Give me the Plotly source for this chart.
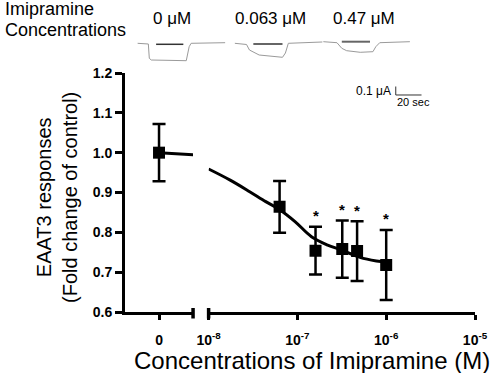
import math
import plotly.graph_objects as go

# ---------------- data ----------------
control_x = [0]
control_y = [1.0]
control_err = [0.072]

conc_M = [6.3e-8, 1.6e-7, 3.2e-7, 4.7e-7, 1.0e-6]
resp = [0.864, 0.754, 0.758, 0.753, 0.718]
resp_err = [0.065, 0.060, 0.072, 0.075, 0.088]
significant = [False, True, True, True, True]

fit_ctrl_x = [0, 1]
fit_ctrl_y = [1.0, 0.995]

fit_x = [1.0e-8, 1.75e-8, 2.9e-8, 4.4e-8, 6.2e-8, 9.4e-8, 1.44e-7, 2.19e-7,
         3.09e-7, 5.07e-7, 7.76e-7, 1.0e-6]
fit_y = [0.959, 0.931, 0.902, 0.877, 0.858, 0.827, 0.789, 0.768,
         0.756, 0.737, 0.728, 0.725]

y_ticks = [0.6, 0.7, 0.8, 0.9, 1.0, 1.1, 1.2]
y_ticklabels = ["0.6", "0.7", "0.8", "0.9", "1.0", "1.1", "1.2"]
x_log_ticks = [1e-8, 1e-7, 1e-6, 1e-5]
x_log_ticklabels = ["10<sup>-8</sup>", "10<sup>-7</sup>", "10<sup>-6</sup>", "10<sup>-5</sup>"]

trace_labels = ["0 μM", "0.063 μM", "0.47 μM"]

# ---------------- layout geometry (pixels) ----------------
W, H = 500, 373
PL, PR, PT, PB = 125, 485, 73, 312
FONT = "Liberation Sans, Arial, sans-serif"


def fx(xp):
    return (xp - PL) / (PR - PL)


def fy(yp):
    return (PB - yp) / (PB - PT)


fig = go.Figure()

err_style = dict(type="data", visible=True, color="black", thickness=2.5, width=6.5)

# control (0) segment
fig.add_trace(go.Scatter(x=fit_ctrl_x, y=fit_ctrl_y, mode="lines",
                         line=dict(color="black", width=3), xaxis="x", yaxis="y",
                         showlegend=False, hoverinfo="skip"))
fig.add_trace(go.Scatter(x=control_x, y=control_y, mode="markers",
                         marker=dict(symbol="square", size=12, color="black"),
                         error_y=dict(array=control_err, **err_style),
                         xaxis="x", yaxis="y", showlegend=False))

# log segment
fig.add_trace(go.Scatter(x=fit_x, y=fit_y, mode="lines", line_shape="spline",
                         line=dict(color="black", width=3), xaxis="x2", yaxis="y",
                         showlegend=False, hoverinfo="skip"))
fig.add_trace(go.Scatter(x=conc_M, y=resp, mode="markers",
                         marker=dict(symbol="square", size=12, color="black"),
                         error_y=dict(array=resp_err, **err_style),
                         xaxis="x2", yaxis="y", showlegend=False))

annotations = []
for c, r, e, s in zip(conc_M, resp, resp_err, significant):
    if s:
        annotations.append(dict(x=math.log10(c), y=r + e + 0.028, xref="x2", yref="y",
                                text="<b>*</b>", showarrow=False,
                                font=dict(family=FONT, size=15, color="black"),
                                yanchor="middle"))

# axis titles
annotations.append(dict(x=fx(317), y=fy(360), xref="paper", yref="paper",
                        text="Concentrations of Imipramine (M)", showarrow=False,
                        font=dict(family=FONT, size=24, color="black"),
                        xanchor="center", yanchor="middle"))
annotations.append(dict(x=fx(55), y=fy(197), xref="paper", yref="paper",
                        text="EAAT3 responses<br>(Fold change of control)", showarrow=False,
                        textangle=-90,
                        font=dict(family=FONT, size=20, color="black"),
                        xanchor="center", yanchor="middle"))

# top-left label
annotations.append(dict(x=fx(0), y=fy(8.7), xref="paper", yref="paper",
                        text="Imipramine", showarrow=False, xanchor="left", yanchor="middle",
                        font=dict(family=FONT, size=18, color="black")))
annotations.append(dict(x=fx(0), y=fy(30.4), xref="paper", yref="paper",
                        text="Concentrations", showarrow=False, xanchor="left", yanchor="middle",
                        font=dict(family=FONT, size=18, color="black")))

for lbl, cx in zip(trace_labels, [173, 274.5, 371]):
    annotations.append(dict(x=fx(cx), y=fy(19), xref="paper", yref="paper",
                            text=lbl, showarrow=False, xanchor="center", yanchor="middle",
                            font=dict(family=FONT, size=17, color="black")))

# scale bar labels
annotations.append(dict(x=fx(401), y=fy(90.5), xref="paper", yref="paper",
                        text="0.1 μA", showarrow=False, xanchor="right", yanchor="middle",
                        font=dict(family=FONT, size=12, color="black")))
annotations.append(dict(x=fx(403), y=fy(102), xref="paper", yref="paper",
                        text="20 sec", showarrow=False, xanchor="left", yanchor="middle",
                        font=dict(family=FONT, size=11, color="black")))

# ---------------- decorative current traces (pixel polylines) ----------------
current_traces = [
    [(138, 43.3), (149, 44), (150, 58.3), (152, 60), (188, 60.7), (191, 46.7), (193, 43.3), (228, 42.7)],
    [(238, 43.3), (250, 44.5), (253, 50), (263, 55), (287, 57.3), (290, 53), (293, 43.3), (328, 42)],
    [(329, 41.7), (343, 42.7), (348, 48.3), (353, 50.7), (367, 52.3), (380, 51.7), (383, 46.7),
     (387, 42.7), (418, 41.7)],
]
drug_bars = [((157, 44.3), (185, 44.3), "#333333", 1.5),
             ((257, 44.0), (287, 44.0), "#333333", 1.5),
             ((348, 41.7), (377, 41.7), "#666666", 2)]

shapes = []


def path_from(points):
    return "M " + " L ".join(f"{fx(a):.5f},{fy(b):.5f}" for a, b in points)


for pts in current_traces:
    shapes.append(dict(type="path", xref="paper", yref="paper", path=path_from(pts),
                       line=dict(color="#9a9a9a", width=1)))
for (p0, p1, col, w) in drug_bars:
    shapes.append(dict(type="line", xref="paper", yref="paper",
                       x0=fx(p0[0]), y0=fy(p0[1]), x1=fx(p1[0]), y1=fy(p1[1]),
                       line=dict(color=col, width=w)))

# scale bar
shapes.append(dict(type="path", xref="paper", yref="paper",
                   path=path_from([(403.5, 86.5), (403.5, 95), (430, 95)]),
                   line=dict(color="#333333", width=1)))

# axis break end marks
for bx in [195, 211]:
    shapes.append(dict(type="line", xref="paper", yref="paper",
                       x0=fx(bx), x1=fx(bx), y0=fy(308), y1=fy(318.5),
                       line=dict(color="black", width=3.5)))

tickfont = dict(family=FONT, size=14, color="black")


def bold(labels):
    return [f"<b>{t}</b>" for t in labels]


fig.update_layout(
    width=W, height=H,
    margin=dict(l=PL, r=W - PR, t=PT, b=H - PB, pad=0),
    paper_bgcolor="white", plot_bgcolor="white",
    showlegend=False,
    xaxis=dict(domain=[0, fx(195)], range=[-1, 1], anchor="y",
               tickvals=[0], ticktext=bold(["0"]), ticks="outside", ticklen=5, tickwidth=2.5,
               tickcolor="black", showline=True, linecolor="black", linewidth=3,
               ticklabelstandoff=8,
               showgrid=False, zeroline=False, tickfont=tickfont),
    xaxis2=dict(domain=[fx(211), 1], type="log", range=[-8, -5], anchor="y",
                tickvals=x_log_ticks, ticktext=bold(x_log_ticklabels), ticks="outside", ticklen=5,
                tickwidth=2.5, tickcolor="black", showline=True, linecolor="black", linewidth=3,
                ticklabelstandoff=8,
                showgrid=False, zeroline=False, tickfont=tickfont),
    yaxis=dict(range=[0.6, 1.2], anchor="x", tickvals=y_ticks, ticktext=bold(y_ticklabels),
               ticks="outside", ticklen=7, tickwidth=2.5, tickcolor="black",
               showline=True, linecolor="black", linewidth=3, showgrid=False,
               zeroline=False, tickfont=tickfont),
    annotations=annotations,
    shapes=shapes,
)

fig.write_html("out.html", config={"displayModeBar": False},
               post_script="document.body.style.margin='0';")
